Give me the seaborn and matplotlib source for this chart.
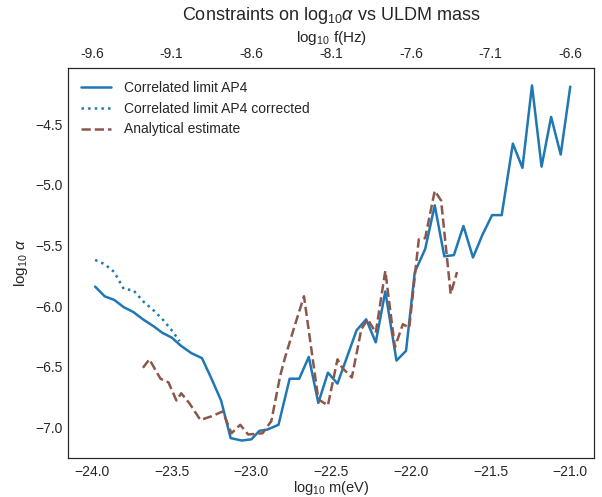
import numpy as np
import pandas as pd
import matplotlib
matplotlib.use("Agg")
import matplotlib.pyplot as plt
import seaborn as sns

# ---- data ----
ap4_x = [-23.98, -23.92, -23.86, -23.80, -23.74, -23.68, -23.61, -23.56, -23.50, -23.44,
         -23.375, -23.31, -23.25, -23.19, -23.13, -23.06, -23.00, -22.95, -22.90, -22.83,
         -22.76, -22.70, -22.64, -22.58, -22.52, -22.46, -22.40, -22.34, -22.28, -22.22,
         -22.16, -22.09, -22.03, -21.975, -21.91, -21.85, -21.79, -21.73, -21.67, -21.61,
         -21.55, -21.49, -21.43, -21.36, -21.30, -21.24, -21.18, -21.12, -21.06, -21.00]
ap4_y = [-5.84, -5.92, -5.95, -6.01, -6.05, -6.11, -6.17, -6.22, -6.26, -6.33,
         -6.39, -6.43, -6.60, -6.78, -7.09, -7.11, -7.10, -7.03, -7.02, -6.98,
         -6.60, -6.60, -6.42, -6.80, -6.55, -6.64, -6.42, -6.20, -6.11, -6.30,
         -5.88, -6.45, -6.37, -5.72, -5.53, -5.17, -5.59, -5.58, -5.34, -5.60,
         -5.41, -5.25, -5.25, -4.66, -4.86, -4.18, -4.85, -4.44, -4.75, -4.19]

corr_x = [-23.98, -23.92, -23.86, -23.80, -23.74, -23.68, -23.61, -23.55, -23.50, -23.45]
corr_y = [-5.62, -5.655, -5.72, -5.86, -5.87, -5.96, -6.04, -6.12, -6.20, -6.29]

est_x = [-23.68, -23.64, -23.57, -23.52, -23.47, -23.44, -23.39, -23.32, -23.25, -23.18,
         -23.125, -23.07, -23.02, -22.93, -22.875, -22.82, -22.79, -22.73, -22.67, -22.58,
         -22.52, -22.46, -22.43, -22.37, -22.31, -22.27, -22.22, -22.16, -22.10, -22.05,
         -22.01, -21.95, -21.91, -21.85, -21.81, -21.75, -21.71]
est_y = [-6.51, -6.44, -6.60, -6.63, -6.78, -6.72, -6.80, -6.94, -6.91, -6.87,
         -7.05, -6.98, -7.06, -7.05, -6.95, -6.58, -6.43, -6.17, -5.92, -6.77,
         -6.82, -6.44, -6.51, -6.59, -6.19, -6.11, -6.22, -5.71, -6.34, -6.15,
         -6.18, -5.45, -5.44, -5.05, -5.13, -5.90, -5.72]

bottom_ticks = [-24.0, -23.5, -23.0, -22.5, -22.0, -21.5, -21.0]
top_labels = ["-9.6", "-9.1", "-8.6", "-8.1", "-7.6", "-7.1", "-6.6"]
y_ticks = [-4.5, -5.0, -5.5, -6.0, -6.5, -7.0]

# ---- style ----
sns.set_style("white")
plt.rcParams["font.family"] = ["Liberation Sans", "DejaVu Sans"]
plt.rcParams["mathtext.fontset"] = "custom"
plt.rcParams["mathtext.rm"] = "Liberation Sans"
plt.rcParams["mathtext.it"] = "Liberation Sans:italic"
plt.rcParams["mathtext.bf"] = "Liberation Sans:bold"

blue = "#1f77b4"
brown = "#8c564b"

fig = plt.figure(figsize=(6.02, 4.97), dpi=100)
ax = fig.add_axes([0.113, 0.078, 0.874, 0.785])

df_ap4 = pd.DataFrame({"x": ap4_x, "y": ap4_y})
df_corr = pd.DataFrame({"x": corr_x, "y": corr_y})
df_est = pd.DataFrame({"x": est_x, "y": est_y})

sns.lineplot(data=df_ap4, x="x", y="y", ax=ax, color=blue, lw=1.8, sort=False,
             estimator=None, label="Correlated limit AP4")
sns.lineplot(data=df_corr, x="x", y="y", ax=ax, color=blue, lw=1.8, sort=False,
             estimator=None, linestyle=":", label="Correlated limit AP4 corrected")
sns.lineplot(data=df_est, x="x", y="y", ax=ax, color=brown, lw=1.8, sort=False,
             estimator=None, linestyle="--", label="Analytical estimate")

ax.set_xlim(-24.15, -20.85)
ax.set_ylim(-7.256, -4.037)
ax.set_xticks(bottom_ticks)
ax.set_yticks(y_ticks)
ax.tick_params(labelsize=10, length=0)
ax.tick_params(axis="x", pad=5)
ax.set_xlabel("log$_{10}$ m(eV)", fontsize=10.5, labelpad=0)
ax.set_ylabel("log$_{10}$ $\\alpha$", fontsize=11)

leg = ax.legend(loc="upper left", frameon=False, fontsize=10,
                handlelength=2.2, handletextpad=0.9)

ax2 = ax.twiny()
ax2.set_xlim(ax.get_xlim())
ax2.set_xticks(bottom_ticks)
ax2.set_xticklabels(top_labels)
ax2.tick_params(labelsize=10, length=0, pad=5)
ax2.set_xlabel("log$_{10}$ f(Hz)", fontsize=11)
ax2.set_title("Constraints on log$_{10}\\alpha$ vs ULDM mass", fontsize=13)

fig.savefig("out.png", dpi=100)
